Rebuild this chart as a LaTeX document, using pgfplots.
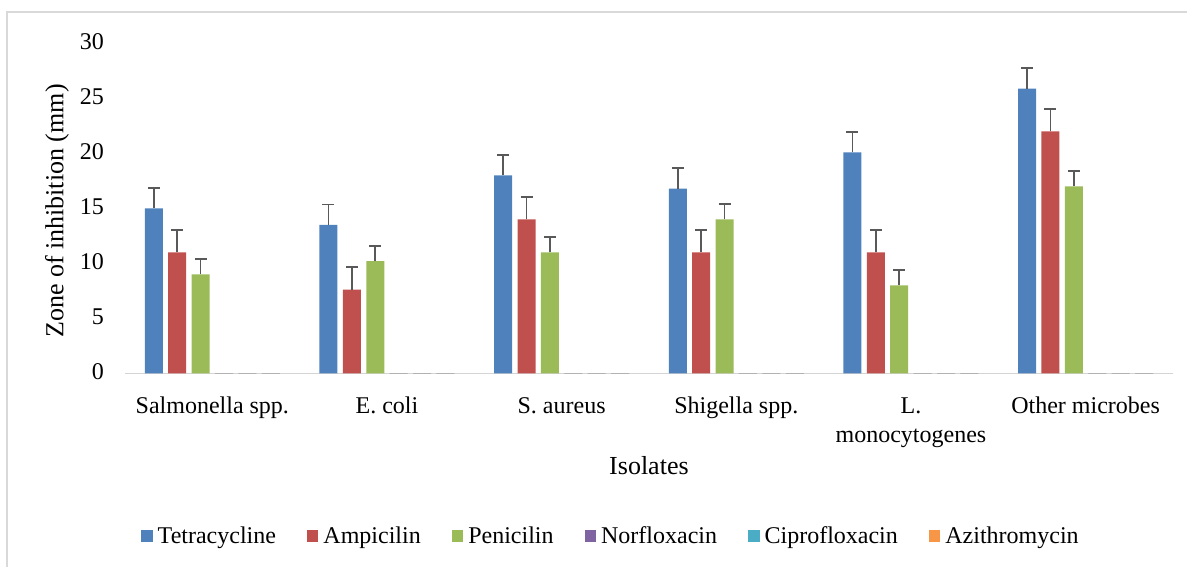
\documentclass[border=0pt]{standalone}
\usepackage{pgfplots}
\pgfplotsset{compat=1.18}
\usepackage{fontspec}
\setmainfont{Liberation Serif}
\definecolor{cTet}{HTML}{4F81BD}
\definecolor{cAmp}{HTML}{C0504D}
\definecolor{cPen}{HTML}{9BBB59}
\definecolor{cNor}{HTML}{8064A2}
\definecolor{cCip}{HTML}{4BACC6}
\definecolor{cAzi}{HTML}{F79646}
\begin{document}
\begin{tikzpicture}[x=1pt,y=1pt]
\path[use as bounding box] (0,0) rectangle (1187,567);
\draw[black!15, line width=1.2pt] (7,0) -- (7,555) -- (1187,555);
\begin{axis}[
  at={(125pt,193.7pt)}, anchor=south west,
  scale only axis, width=1048pt, height=329.8pt,
  xmin=-0.5, xmax=5.5, ymin=0, ymax=30,
  ybar=5.4pt, bar width=18pt,
  axis x line=bottom, axis y line=left,
  x axis line style={draw=black!17, line width=1.5pt, -},
  y axis line style={draw=none},
  major tick length=0pt,
  xtick={0,1,2,3,4,5},
  xticklabels={Salmonella spp., E. coli, S. aureus, Shigella spp., L.\\monocytogenes, Other microbes},
  ytick={0,5,10,15,20,25,30},
  /pgf/number format/assume math mode=true,
  typeset ticklabels with strut,
  xticklabel style={anchor=north, inner sep=0pt, yshift=-19.4pt, align=center, font=\fontsize{24}{29}\selectfont},
  yticklabel style={anchor=east, inner sep=0pt, xshift=-21pt, font=\fontsize{24}{29}\selectfont},
  ylabel={Zone of inhibition (mm)},
  ylabel style={at={(axis description cs:-0.0649,0.492)}, anchor=center, font=\fontsize{26}{30}\selectfont},
  xlabel={Isolates},
  xlabel style={at={(axis description cs:0.5,-0.281)}, anchor=center, font=\fontsize{26}{30}\selectfont},
  legend columns=-1,
  legend style={at={(axis description cs:0.4628,-0.4933)}, anchor=center, draw=none, fill=none,
    font=\fontsize{24}{29}\selectfont, nodes={inner sep=0pt},
    column sep=5pt, /tikz/every even column/.append style={column sep=31pt}},
  legend image code/.code={\fill[#1,draw=none] (0pt,-5.75pt) rectangle (11.5pt,5.75pt);},
  error bars/error bar style={line width=1.6pt, color=black!65},
  error bars/error mark options={rotate=90, mark size=6pt, line width=1.6pt, color=black!65},
]
\addplot[fill=cTet, draw=none, error bars/.cd, y dir=plus, y explicit] coordinates {
  (0,15) +- (0,1.85) (1,13.5) +- (0,1.85) (2,18) +- (0,1.85) (3,16.8) +- (0,1.85) (4,20.1) +- (0,1.85) (5,25.9) +- (0,1.85)};
\addplot[fill=cAmp, draw=none, error bars/.cd, y dir=plus, y explicit] coordinates {
  (0,11) +- (0,2.05) (1,7.6) +- (0,2.05) (2,14) +- (0,2.05) (3,11) +- (0,2.05) (4,11) +- (0,2.05) (5,22) +- (0,2.05)};
\addplot[fill=cPen, draw=none, error bars/.cd, y dir=plus, y explicit] coordinates {
  (0,9) +- (0,1.4) (1,10.2) +- (0,1.4) (2,11) +- (0,1.4) (3,14) +- (0,1.4) (4,8) +- (0,1.4) (5,17) +- (0,1.4)};
\addplot[fill=cNor, draw=black!30, line width=1.2pt] coordinates {(0,0) (1,0) (2,0) (3,0) (4,0) (5,0)};
\addplot[fill=cCip, draw=black!30, line width=1.2pt] coordinates {(0,0) (1,0) (2,0) (3,0) (4,0) (5,0)};
\addplot[fill=cAzi, draw=black!30, line width=1.2pt] coordinates {(0,0) (1,0) (2,0) (3,0) (4,0) (5,0)};
\legend{Tetracycline, Ampicilin, Penicilin, Norfloxacin, Ciprofloxacin, Azithromycin}
\end{axis}
\end{tikzpicture}
\end{document}
